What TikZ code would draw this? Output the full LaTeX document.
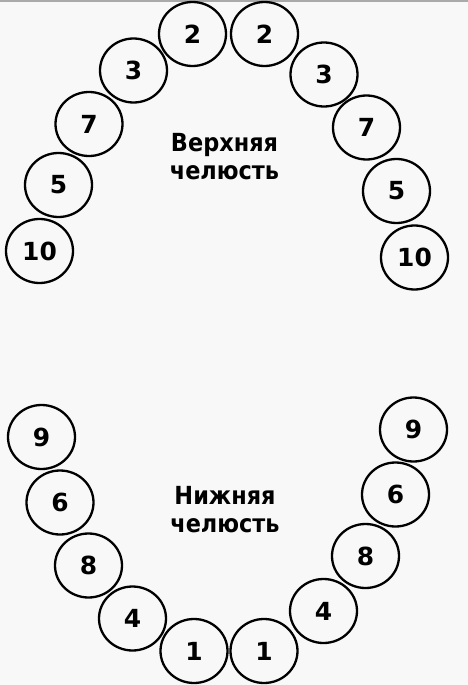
\documentclass[tikz,border=0pt]{standalone}
\usepackage{fontspec}
\setmainfont{DejaVu Sans Condensed}
\newfontfamily\digitfont{DejaVu Sans}
\usetikzlibrary{shapes.geometric}
\definecolor{bgc}{RGB}{248,248,248}
\definecolor{topline}{RGB}{170,170,170}
\begin{document}
\begin{tikzpicture}[x=1bp,y=-1bp,
  tooth/.style={ellipse,draw=black,line width=2.3bp,minimum width=67bp,minimum height=64bp,inner sep=0pt,
    font=\digitfont\bfseries\fontsize{25}{25}\selectfont},
  jawlabel/.style={align=center,font=\bfseries\fontsize{25}{28}\selectfont,inner sep=0pt}]
\useasboundingbox (0,0) rectangle (468,685);
\fill[bgc] (0,0) rectangle (468,685);
\draw[topline,line width=2bp] (0,1) -- (468,1);
% upper jaw
\node[tooth] (u2l) at (192.5,34) {2};
\node[tooth] (u2r) at (264.5,34) {2};
\node[tooth] (u3l) at (133.5,70.5) {3};
\node[tooth] (u3r) at (324,74.5) {3};
\node[tooth] (u7l) at (89,124) {7};
\node[tooth] (u7r) at (366.5,127.5) {7};
\node[tooth] (u5l) at (58.5,185) {5};
\node[tooth] (u5r) at (396.5,191) {5};
\node[tooth] (u10l) at (39.5,251) {10};
\node[tooth] (u10r) at (414.5,257.5) {10};
% lower jaw
\node[tooth] (l9l) at (41.5,437) {9};
\node[tooth] (l9r) at (413.5,429.5) {9};
\node[tooth] (l6l) at (60,502.5) {6};
\node[tooth] (l6r) at (395.5,494.5) {6};
\node[tooth] (l8l) at (88.5,565.5) {8};
\node[tooth] (l8r) at (365.5,556) {8};
\node[tooth] (l4l) at (132.5,618.5) {4};
\node[tooth] (l4r) at (323.5,611) {4};
\node[tooth] (l1l) at (194,651) {1};
\node[tooth] (l1r) at (264,651) {1};
% labels
\node[jawlabel] (upper) at (224.5,157) {Верхняя\\челюсть};
\node[jawlabel] (lower) at (225,510) {Нижняя\\челюсть};
\end{tikzpicture}
\end{document}
